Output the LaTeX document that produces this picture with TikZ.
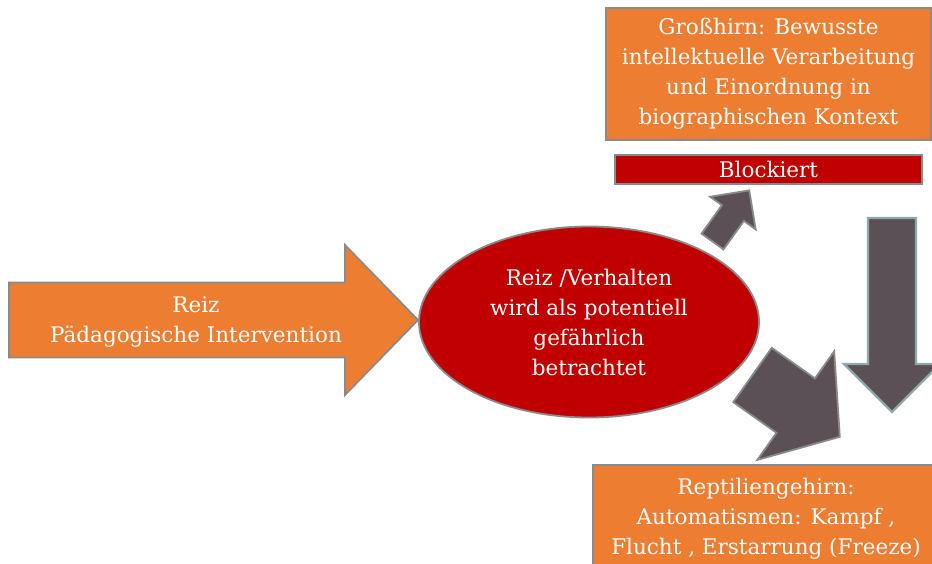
\documentclass[tikz,border=0pt]{standalone}
\usepackage{fontspec}
\setmainfont{DejaVu Serif}
\usetikzlibrary{positioning,shapes.geometric}
\definecolor{boxorange}{HTML}{ED7D31}
\definecolor{darkred}{HTML}{C00000}
\definecolor{arrowgray}{HTML}{5B5056}
\definecolor{rimgray}{HTML}{8A8A8A}
\definecolor{rimteal}{HTML}{8FA9AB}
% [style] tail, angle, length, shaft, head, head length
\newcommand{\blockarrow}[7][]{%
  \draw[#1,shift={(#2)},rotate=#3] (0,-#5/2) -- (#4-#7,-#5/2) -- (#4-#7,-#6/2) -- (#4,0)
    -- (#4-#7,#6/2) -- (#4-#7,#5/2) -- (0,#5/2) -- cycle;}

\begin{document}
\begin{tikzpicture}[x=1pt,y=-1pt,
  txt/.style={text=white,align=center,font=\fontsize{21.5}{30}\selectfont},
  panel/.style={txt,draw=rimgray,line width=1.8pt,fill=boxorange,inner sep=0pt},
  bar/.style={txt,draw=rimgray,line width=1.8pt,fill=darkred,inner sep=0pt},
  grayarrow/.style={draw=rimgray,line width=1.8pt,fill=arrowgray},
  orangearrow/.style={draw=rimgray,line width=1.8pt,fill=boxorange}]
  \useasboundingbox (0,0) rectangle (932,563);
  % stimulus
  \coordinate (stim tail) at (9,320);
  \blockarrow[orangearrow]{stim tail}{0}{409}{75}{150}{73}
  \node[txt] (stim) at (196,322) {Reiz\\Pädagogische Intervention};
  \node[ellipse,txt,draw=rimgray,line width=1.8pt,fill=darkred,minimum width=340,minimum height=191,inner sep=0pt]
    (threat) at (589,322) {Reiz /Verhalten\\wird als potentiell\\gefährlich\\betrachtet};
  % brain parts
  \node[panel,minimum width=325,minimum height=132] (cortex) at (768.5,74)
    {Großhirn: Bewusste\\intellektuelle Verarbeitung\\und Einordnung in\\biographischen Kontext};
  \node[bar,minimum width=307,minimum height=29,below=13pt of cortex] (blocked) {Blockiert};
  \node[panel,minimum width=346,minimum height=108] (reptile) at (766,519)
    {Reptiliengehirn:\\Automatismen: Kampf ,\\Flucht , Erstarrung (Freeze)};
  % block arrows
  \coordinate (up tail) at (712.5,241.5);
  \coordinate (down tail) at (892,218);
  \coordinate (diag tail) at (752.5,375);
  \blockarrow[grayarrow]{up tail}{54.3}{63}{27}{56}{28}
  \blockarrow[grayarrow,draw=rimteal,line width=2.2pt]{down tail}{-90}{194}{48}{96}{48}
  \blockarrow[grayarrow]{diag tail}{-35.3}{107}{66.6}{133}{54}
\end{tikzpicture}
\end{document}
